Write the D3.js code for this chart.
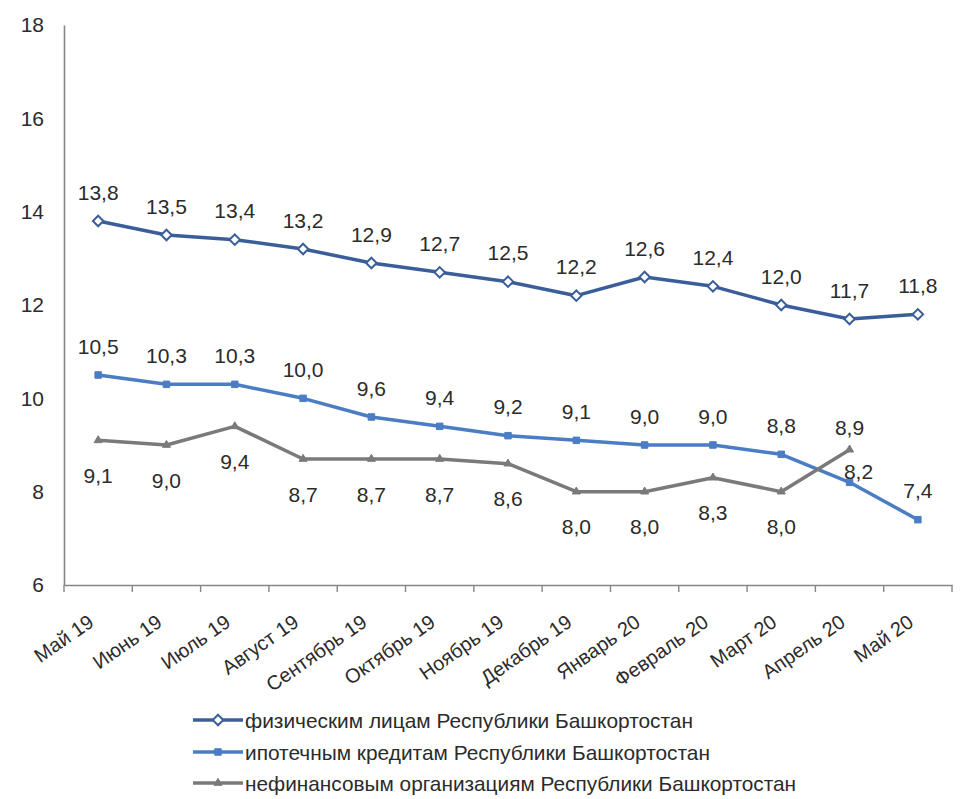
<!DOCTYPE html>
<html>
<head>
<meta charset="utf-8">
<script src="https://cdn.jsdelivr.net/npm/d3@7/dist/d3.min.js"></script>
<style>
  html, body { margin: 0; padding: 0; background: #ffffff; }
  svg { display: block; }
  text { font-family: "Liberation Sans", Arial, sans-serif; fill: #2b2b2b; }
</style>
</head>
<body>
<svg id="chart" width="960" height="799"></svg>
<script>
// ---- data ----
const categories = ["Май 19", "Июнь 19", "Июль 19", "Август 19", "Сентябрь 19", "Октябрь 19",
  "Ноябрь 19", "Декабрь 19", "Январь 20", "Февраль 20", "Март 20", "Апрель 20", "Май 20"];
const individualsRB = [13.8, 13.5, 13.4, 13.2, 12.9, 12.7, 12.5, 12.2, 12.6, 12.4, 12.0, 11.7, 11.8];
const mortgageRB = [10.5, 10.3, 10.3, 10.0, 9.6, 9.4, 9.2, 9.1, 9.0, 9.0, 8.8, 8.2, 7.4];
const nonFinancialRB = [9.1, 9.0, 9.4, 8.7, 8.7, 8.7, 8.6, 8.0, 8.0, 8.3, 8.0, 8.9];
const seriesNames = [
  "физическим лицам Республики Башкортостан",
  "ипотечным кредитам Республики Башкортостан",
  "нефинансовым организациям Республики Башкортостан"
];
const yTickValues = [6, 8, 10, 12, 14, 16, 18];

// ---- setup ----
const svg = d3.select("#chart");
const mLeft = 64, mRight = 952, mTop = 25, mBottom = 585;
const x = d3.scaleBand().domain(categories).range([mLeft, mRight]);
const y = d3.scaleLinear().domain([6, 18]).range([mBottom, mTop]);
const cx = c => x(c) + x.bandwidth() / 2;
const ru = d3.formatLocale({ decimal: ",", thousands: " ", grouping: [3], currency: ["", ""] });
const fmt = ru.format(".1f");

const axisColor = "#868686";
const textColor = "#2b2b2b";

// y axis
const yAxis = svg.append("g")
  .attr("transform", `translate(${mLeft},0)`)
  .call(d3.axisLeft(y).tickValues(yTickValues).tickSize(0).tickPadding(20).tickFormat(d3.format("d")));
yAxis.select(".domain").attr("stroke", axisColor).attr("stroke-width", 1.6);
yAxis.selectAll("text").attr("font-size", 21).attr("fill", textColor)
  .style("font-family", '"Liberation Sans", Arial, sans-serif');

// x axis
const xAxis = svg.append("g")
  .attr("transform", `translate(0,${mBottom})`)
  .call(d3.axisBottom(x).tickSize(0).tickFormat(""));
xAxis.select(".domain").attr("stroke", axisColor).attr("stroke-width", 1.6);
const boundaries = categories.map(c => x(c)).concat([x.range()[1]]);
xAxis.selectAll("line.bound").data(boundaries).enter().append("line")
  .attr("class", "bound")
  .attr("x1", d => d).attr("x2", d => d)
  .attr("y1", 0).attr("y2", 7)
  .attr("stroke", axisColor).attr("stroke-width", 1.4);

// x labels rotated
svg.append("g").selectAll("text").data(categories).enter().append("text")
  .attr("transform", d => `translate(${cx(d) - 3},${mBottom + 40}) rotate(-35)`)
  .attr("text-anchor", "end")
  .attr("font-size", 20)
  .attr("fill", textColor)
  .text(d => d);

// ---- series ----
const series = [
  { name: seriesNames[0], values: individualsRB, color: "#3B5E9B", marker: "diamond" },
  { name: seriesNames[1], values: mortgageRB, color: "#4A7DC3", marker: "square" },
  { name: seriesNames[2], values: nonFinancialRB, color: "#7A7A7A", marker: "triangle" }
];

const symbolFor = {
  diamond: d3.symbol().type(d3.symbolDiamond2).size(70),
  square: d3.symbol().type(d3.symbolSquare).size(42),
  triangle: d3.symbol().type(d3.symbolTriangle).size(28)
};

function drawMarker(g, s, px, py) {
  const p = g.append("path")
    .attr("d", symbolFor[s.marker]())
    .attr("transform", `translate(${px},${py})`);
  if (s.marker === "diamond") {
    p.attr("fill", "#ffffff").attr("stroke", s.color).attr("stroke-width", 2);
  } else {
    p.attr("fill", s.color).attr("stroke", s.color).attr("stroke-width", 1);
  }
}

const line = d3.line().x(d => cx(d.c)).y(d => y(d.v));

series.forEach((s, si) => {
  const pts = s.values.map((v, i) => ({ c: categories[i], v, i }));
  const g = svg.append("g");
  g.append("path").datum(pts)
    .attr("d", line)
    .attr("fill", "none")
    .attr("stroke", s.color)
    .attr("stroke-width", 3.5)
    .attr("stroke-linejoin", "round");
  pts.forEach(p => drawMarker(g, s, cx(p.c), y(p.v)));

  // data labels
  g.selectAll("text").data(pts).enter().append("text")
    .attr("x", p => {
      if (si === 1) {
        const other = nonFinancialRB[p.i];
        if (other !== undefined && other > p.v) return cx(p.c) + 9;
      }
      return cx(p.c);
    })
    .attr("y", p => {
      const py = y(p.v);
      if (si === 2) {
        const m = mortgageRB[p.i];
        if (p.v > m) return py - 22;
        return py + 35;
      }
      if (si === 1) {
        const other = nonFinancialRB[p.i];
        if (other !== undefined && other > p.v) return py - 11;
      }
      return py - 29;
    })
    .attr("text-anchor", "middle")
    .attr("dominant-baseline", "central")
    .attr("font-size", 21)
    .attr("fill", textColor)
    .text(p => fmt(p.v));
});

// ---- legend ----
const legendRows = [720, 752, 783];
const legendWidths = [448, 465, 551];
const lg = svg.append("g");
series.forEach((s, i) => {
  const ly = legendRows[i];
  lg.append("line")
    .attr("x1", 193).attr("x2", 243).attr("y1", ly).attr("y2", ly)
    .attr("stroke", s.color).attr("stroke-width", 3.5);
  drawMarker(lg, s, 218, ly);
  lg.append("text")
    .attr("x", 245).attr("y", ly)
    .attr("dominant-baseline", "central")
    .attr("font-size", 21)
    .attr("fill", textColor)
    .attr("textLength", legendWidths[i])
    .attr("lengthAdjust", "spacingAndGlyphs")
    .text(s.name);
});
</script>
</body>
</html>
